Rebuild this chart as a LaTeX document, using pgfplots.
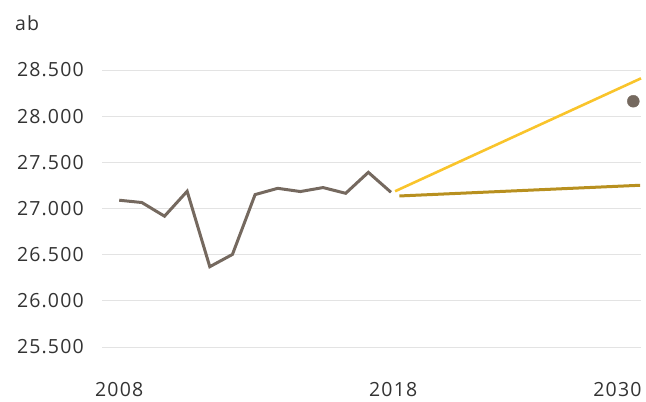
\documentclass[border=0pt]{standalone}
\usepackage{fontspec}
\setmainfont{Open Sans}[LetterSpace=6]
\usepackage{pgfplots}
\pgfplotsset{compat=1.18}
\definecolor{histgray}{HTML}{75695F}
\definecolor{yel}{HTML}{F9C42B}
\definecolor{gold}{HTML}{B8901F}
\definecolor{gridc}{HTML}{E3E3E3}
\definecolor{txt}{HTML}{333333}
\begin{document}
\fontsize{19.5bp}{23bp}\selectfont
\begin{tikzpicture}
\begin{axis}[
  scale only axis,
  width=539bp, height=304.7bp,
  xmin=-0.76, xmax=23.04,
  ymin=25300, ymax=28600,
  scaled y ticks=false,
  axis line style={draw=none},
  major tick length=0pt,
  ytick={25500,26000,26500,27000,27500,28000,28500},
  yticklabels={25.500,26.000,26.500,27.000,27.500,28.000,28.500},
  xtick={0,12.1,22},
  xticklabels={2008,2018,2030},
  ymajorgrids,
  grid style={gridc, line width=1bp},
  tick label style={text=txt, font=\fontsize{19.5bp}{23bp}\selectfont, inner sep=0pt},
  yticklabel style={anchor=east, xshift=-18bp},
  xticklabel style={anchor=north, yshift=-16.5bp},
  clip=false,
]
\addplot[histgray, line width=3bp] coordinates {
(0,27090) (1,27065) (2,26917) (3,27187) (4,26370) (5,26503) (6,27151)
(7,27219) (8,27184) (9,27227) (10,27165) (11,27392) (12,27176)};
\addplot[yel, line width=2.6bp] coordinates {(12.18,27187) (23.04,28410)};
\addplot[gold, line width=3bp] coordinates {(12.37,27136) (23.0,27252)};
\addplot[only marks, mark=*, mark size=6bp, histgray, mark options={draw=none, fill=histgray}] coordinates {(22.7,28162)};
\end{axis}
\node[anchor=base west, inner sep=0pt, text=txt] at (-87bp,334.5bp) {ab};
\path (-102bp,-36.5bp) rectangle (544bp,365.5bp);
\end{tikzpicture}
\end{document}
